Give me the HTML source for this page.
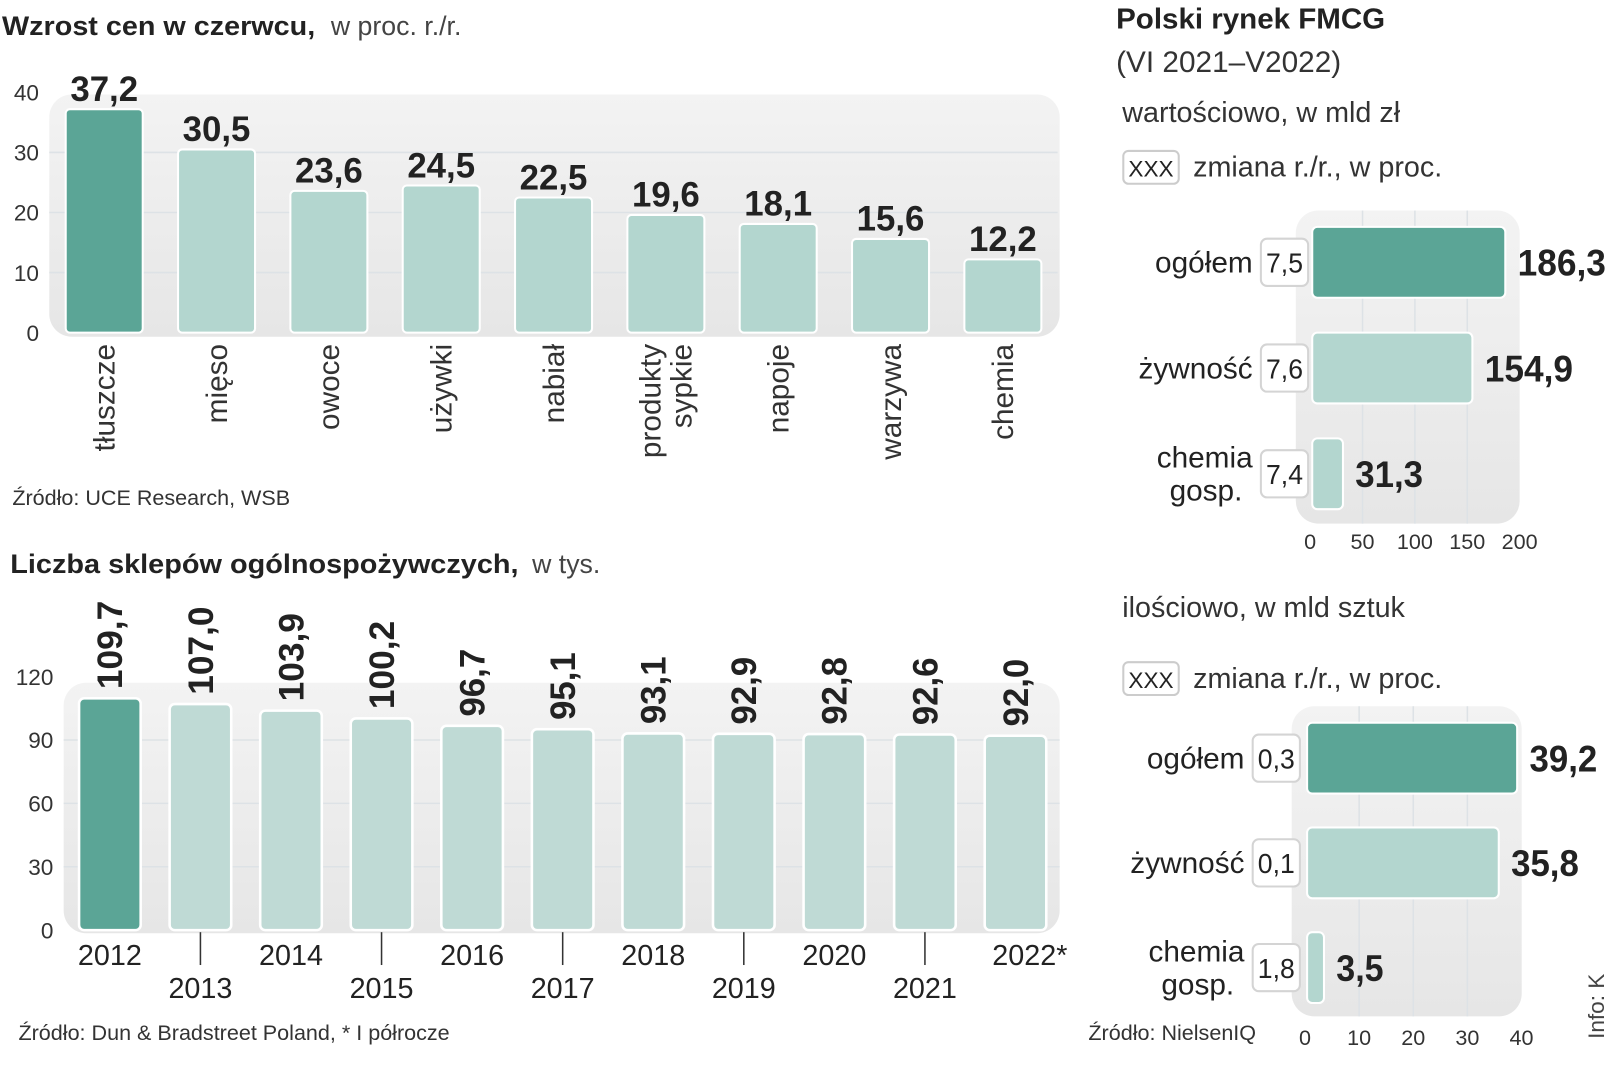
<!DOCTYPE html>
<html><head><meta charset="utf-8">
<style>
html,body{margin:0;padding:0;background:#fff;}
svg{display:block;font-family:"Liberation Sans",sans-serif;}
</style></head>
<body>
<svg id="main" width="1610" height="1080" viewBox="0 0 1568 1052" preserveAspectRatio="none" xmlns="http://www.w3.org/2000/svg">
<defs>
<linearGradient id="pg" x1="0" y1="0" x2="0" y2="1"><stop offset="0" stop-color="#f3f3f3"/><stop offset="1" stop-color="#e6e6e6"/></linearGradient>
</defs>
<g id="c1"></g>
<g id="c2"></g>
<g id="c3"></g>
<g id="c4"></g>
<g id="static">
<text x="2" y="34" font-size="26" fill="#222"><tspan font-weight="bold" textLength="305" lengthAdjust="spacingAndGlyphs">Wzrost cen w czerwcu,</tspan><tspan fill="#444" dx="8"> w proc. r./r.</tspan></text>
<text x="12" y="492" font-size="21" fill="#333">Źródło: UCE Research, WSB</text>
<text x="10" y="558" font-size="26" fill="#222"><tspan font-weight="bold" textLength="495" lengthAdjust="spacingAndGlyphs">Liczba sklepów ogólnospożywczych,</tspan><tspan fill="#444" dx="6"> w tys.</tspan></text>
<text x="18" y="1013" font-size="21" fill="#333">Źródło: Dun &amp; Bradstreet Poland, * I półrocze</text>
<text x="1087" y="28" font-size="28" font-weight="bold" fill="#222" textLength="262" lengthAdjust="spacingAndGlyphs">Polski rynek FMCG</text>
<text x="1087" y="70" font-size="29" fill="#333">(VI 2021–V2022)</text>
<text x="1093" y="119" font-size="28" fill="#333">wartościowo, w mld zł</text>
<rect x="1094" y="147" width="54" height="32" rx="5" fill="#fff" stroke="#ccc" stroke-width="2"/>
<text x="1121" y="172" font-size="22" fill="#222" text-anchor="middle">XXX</text>
<text x="1162" y="172" font-size="28" fill="#333">zmiana r./r., w proc.</text>
<text x="1093" y="601" font-size="28" fill="#333">ilościowo, w mld sztuk</text>
<rect x="1094" y="645" width="54" height="32" rx="5" fill="#fff" stroke="#ccc" stroke-width="2"/>
<text x="1121" y="670" font-size="22" fill="#222" text-anchor="middle">XXX</text>
<text x="1162" y="670" font-size="28" fill="#333">zmiana r./r., w proc.</text>
<text x="1060" y="1013" font-size="21" fill="#333">Źródło: NielsenIQ</text>
<text transform="translate(1562,1012) rotate(-90)" font-size="22" fill="#444">Info: K</text>
</g>
</svg>
<script>
// Chart 1 data
const cat1 = ["tłuszcze","mięso","owoce","używki","nabiał","produkty|sypkie","napoje","warzywa","chemia"];
const val1 = [37.2,30.5,23.6,24.5,22.5,19.6,18.1,15.6,12.2];
const lab1 = ["37,2","30,5","23,6","24,5","22,5","19,6","18,1","15,6","12,2"];
const ticks1 = [0,10,20,30,40];
// Chart 2 data
const years2 = ["2012","2013","2014","2015","2016","2017","2018","2019","2020","2021","2022*"];
const val2 = [109.7,107.0,103.9,100.2,96.7,95.1,93.1,92.9,92.8,92.6,92.0];
const lab2 = ["109,7","107,0","103,9","100,2","96,7","95,1","93,1","92,9","92,8","92,6","92,0"];
const ticks2 = [0,30,60,90,120];
// Chart 3 data
const cat3 = ["ogółem","żywność","chemia|gosp."];
const val3 = [186.3,154.9,31.3];
const lab3 = ["186,3","154,9","31,3"];
const chg3 = ["7,5","7,6","7,4"];
const ticks3 = [0,50,100,150,200];
// Chart 4 data
const cat4 = ["ogółem","żywność","chemia|gosp."];
const val4 = [39.2,35.8,3.5];
const lab4 = ["39,2","35,8","3,5"];
const chg4 = ["0,3","0,1","1,8"];
const ticks4 = [0,10,20,30,40];

const NS="http://www.w3.org/2000/svg";
const DARK="#5ba596", LIGHT="#b3d6cf";
function mk(parent,tag,attrs,txt){const e=document.createElementNS(NS,tag);for(const k in attrs)e.setAttribute(k,attrs[k]);if(txt!==undefined)e.textContent=txt;parent.appendChild(e);return e;}
function tl(s){return s.length>=5?86:(s.length===4?66:46);}

// ---- Chart 1
(function(){
const g=document.getElementById('c1');
const y=v=>324-v*5.85; const x0=64, step=109.4, bw=75;
let p=mk(g,'rect',{x:48,y:92,width:984,height:236,rx:22,fill:'url(#pg)'});


ticks1.forEach(t=>{
 if(t>0&&t<40){let l=mk(g,'line',{x1:48,x2:1030,y1:y(t),y2:y(t),stroke:'#dde2e6','stroke-width':1.5});
 
 }
 let tx=mk(g,'text',{x:38,y:y(t)+8,'font-size':22,fill:'#333','text-anchor':'end'},String(t));
 
 
});
val1.forEach((v,i)=>{
 const x=x0+i*step;
 let r=mk(g,'rect',{x:x,y:y(v),width:bw,height:y(0)-y(v),rx:4,fill:i===0?DARK:LIGHT,stroke:'#fff','stroke-width':2});
 
 
 let t=mk(g,'text',{x:x+bw/2,y:y(v)-8,'font-size':34,'font-weight':'bold',fill:'#222','text-anchor':'middle',textLength:tl(lab1[i]),lengthAdjust:'spacingAndGlyphs'},lab1[i]);
 
 
 const parts=cat1[i].split('|');
 parts.forEach((s,j)=>{
  const cx=x+bw/2+10-(parts.length-1)*15+j*30;
  let c=mk(g,'text',{transform:`translate(${cx},335) rotate(-90)`,'font-size':29,fill:'#333','text-anchor':'end'},s);
  
  
 });
});
})();

// ---- Chart 2
(function(){
const g=document.getElementById('c2');
const y=v=>906-v*2.058; const x0=77, step=88.2, bw=60;
let p=mk(g,'rect',{x:62,y:665,width:970,height:244,rx:22,fill:'url(#pg)'});


ticks2.forEach(t=>{
 if(t>0&&t<120){let l=mk(g,'line',{x1:62,x2:1032,y1:y(t),y2:y(t),stroke:'#dde2e6','stroke-width':1.5});
 
 }
 let tx=mk(g,'text',{x:52,y:y(t)+8,'font-size':22,fill:'#333','text-anchor':'end'},String(t));
 
 
});
val2.forEach((v,i)=>{
 const x=x0+i*step, cx=x+bw/2;
 let r=mk(g,'rect',{x:x,y:y(v),width:bw,height:y(0)-y(v),rx:5,fill:i===0?DARK:'#bfdad5',stroke:'#fff','stroke-width':2.5});
 
 
 let t=mk(g,'text',{transform:`translate(${cx+12},${y(v)-9}) rotate(-90)`,'font-size':34,'font-weight':'bold',fill:'#222',textLength:tl(lab2[i]),lengthAdjust:'spacingAndGlyphs'},lab2[i]);
 
 
 const odd=i%2===1;
 if(odd){let l=mk(g,'line',{x1:cx,x2:cx,y1:908,y2:940,stroke:'#333','stroke-width':1.5});
  
  }
 let yl=mk(g,'text',{x:i===10?cx+14:cx,y:odd?972:940,'font-size':28,fill:'#222','text-anchor':'middle'},years2[i]);
 
 
});
})();

// ---- Horizontal charts
function hchart(id,cats,vals,labs,chg,ticks,x0,scale,ys,bh,panel,tickY,boxX){
 const g=document.getElementById(id);
 const X=v=>x0+v*scale;
 let p=mk(g,'rect',{x:panel[0],y:panel[1],width:panel[2],height:panel[3],rx:22,fill:'url(#pg)'});
 
 
 ticks.forEach(t=>{
  if(t>0&&t<ticks[ticks.length-1]){let l=mk(g,'line',{x1:X(t),x2:X(t),y1:panel[1],y2:panel[1]+panel[3],stroke:'#dde2e6','stroke-width':1.5});
  
  }
  let tx=mk(g,'text',{x:X(t),y:tickY,'font-size':21,fill:'#333','text-anchor':'middle'},String(t));
  
  
 });
 vals.forEach((v,i)=>{
  const yy=ys[i], cy=yy+bh/2;
  let r=mk(g,'rect',{x:x0+2,y:yy,width:X(v)-x0-2,height:bh,rx:5,fill:i===0?DARK:LIGHT,stroke:'#fff','stroke-width':2});
  
  
  let t=mk(g,'text',{x:X(v)+12,y:cy+13,'font-size':36,'font-weight':'bold',fill:'#222',textLength:tl(labs[i]),lengthAdjust:'spacingAndGlyphs'},labs[i]);
  
  
  let b=mk(g,'rect',{x:boxX,y:cy-23,width:46,height:46,rx:6,fill:'#fff',stroke:'#d4d4d4','stroke-width':2});
  
  
  let bt=mk(g,'text',{x:boxX+23,y:cy+10,'font-size':27,fill:'#222','text-anchor':'middle',textLength:36,lengthAdjust:'spacingAndGlyphs'},chg[i]);
  
  
  const parts=cats[i].split('|');
  parts.forEach((s,j)=>{
   let c=mk(g,'text',{x:boxX-8-(j===1?10:0),y:cy+10-(parts.length-1)*16+j*32,'font-size':29,fill:'#222','text-anchor':'end'},s);
   
   
  });
 });
}
hchart('c3',cat3,val3,lab3,chg3,ticks3,1276,1.02,[221,324,427],69,[1262,205,218,305],535,1228);
hchart('c4',cat4,val4,lab4,chg4,ticks4,1271,5.27,[704,806,908],69,[1258,688,224,302],1018,1220);
</script>
</body></html>
